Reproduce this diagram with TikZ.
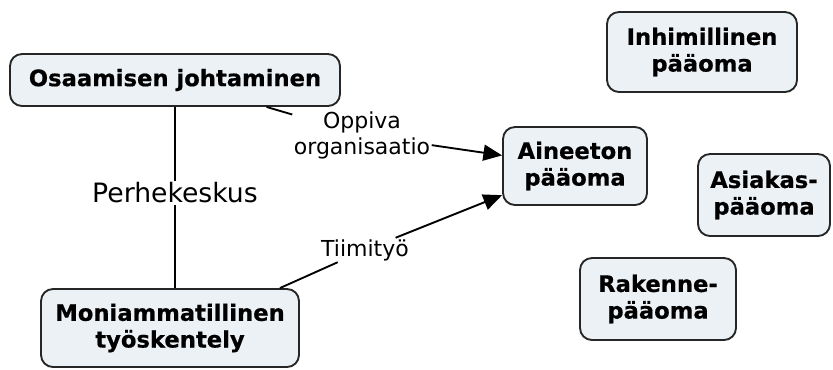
\documentclass[tikz,border=0pt]{standalone}
\usepackage{fontspec}
\setmainfont{DejaVu Sans}
\newfontfamily\boxfont{DejaVu Sans}[BoldFeatures={FakeBold=0.6}]
\usetikzlibrary{arrows.meta}
\definecolor{boxfill}{HTML}{EBF1F4}
\begin{document}
\begin{tikzpicture}[x=0.75pt,y=-0.75pt,
 cbox/.style={draw=black!85, line width=1.4pt, rounded corners=9pt, fill=boxfill, align=center, font=\fontsize{17}{20}\boxfont\bfseries, inner sep=0pt},
 lbl/.style={align=center, font=\fontsize{16.5}{19.5}\selectfont, inner sep=1pt},
 conn/.style={line width=1.4pt, draw=black},
 arr/.style={conn, -{Triangle[length=14pt,width=12pt]}}]
\useasboundingbox (0,0) rectangle (833,369);
\node[cbox, minimum width=247.5pt, minimum height=39pt] (osa) at (175,80) {Osaamisen johtaminen};
\node[cbox, minimum width=142.5pt, minimum height=60pt] (inh) at (702,52) {Inhimillinen\\pääoma};
\node[cbox, minimum width=108pt, minimum height=58.5pt] (ain) at (575,166) {Aineeton\\pääoma};
\node[cbox, minimum width=99pt, minimum height=61.5pt] (asi) at (764,195) {Asiakas-\\pääoma};
\node[cbox, minimum width=117pt, minimum height=61.5pt] (rak) at (658,299) {Rakenne-\\pääoma};
\node[cbox, minimum width=193.5pt, minimum height=58.5pt] (mon) at (170,328) {Moniammatillinen\\työskentely};
\node[lbl] (opp) at (362,135) {Oppiva\\organisaatio};
\node[lbl, font=\fontsize{20}{24}\selectfont] (per) at (175,193) {Perhekeskus};
\node[lbl] (tii) at (365,250) {Tiimityö};
\draw[conn] (osa) -- (opp);
\draw[arr] (opp) -- (ain);
\draw[conn] (osa.south -| per) -- (per.north);
\draw[conn] (per.south) -- (mon.north -| per);
\draw[conn] ([xshift=-15pt]mon.north east) -- (tii);
\draw[arr] (tii) -- (ain);
\end{tikzpicture}
\end{document}
